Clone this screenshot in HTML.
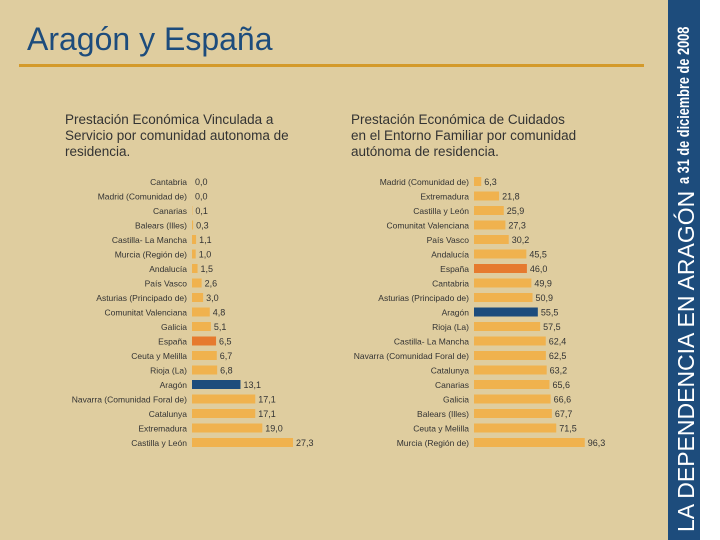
<!DOCTYPE html>
<html><head><meta charset="utf-8"><style>
body{margin:0;width:720px;height:540px;overflow:hidden;background:#fff;font-family:"Liberation Sans",sans-serif}
#bg{position:absolute;left:0;top:0;width:668px;height:540px;background:#dfcd9f}
#strip{position:absolute;left:668px;top:0;width:32px;height:540px;background:#1d4c7c}
.rot{position:absolute;color:#fff;white-space:nowrap;transform-origin:0 0;transform:rotate(-90deg)}
h1{position:absolute;left:27px;top:21px;margin:0;font-weight:normal;font-size:32px;color:#1d4c7c}
#rule{position:absolute;left:19px;top:64px;width:625px;height:3px;background:#d49a2a}
.ttl{position:absolute;font-size:13.5px;line-height:16px;color:#333}
svg{position:absolute;left:0;top:0}
</style></head><body>
<div id="bg"></div>
<div id="strip">
<div class="rot" style="left:5px;top:532px;font-size:23px">LA DEPENDENCIA EN ARAGÓN</div>
<div class="rot" style="left:6px;top:184px;font-size:17px;font-weight:bold;transform:rotate(-90deg) scaleX(0.75)">a 31 de diciembre de 2008</div>
</div>
<h1>Aragón y España</h1>
<div id="rule"></div>
<div class="ttl" style="left:65px;top:112px">Prestación Económica Vinculada a<br>Servicio por comunidad autonoma de<br>residencia.</div>
<div class="ttl" style="left:351px;top:112px">Prestación Económica de Cuidados<br>en el Entorno Familiar por comunidad<br>autónoma de residencia.</div>
<svg id="chart" width="720" height="540"></svg>
<script>
const leftCats=["Cantabria","Madrid (Comunidad de)","Canarias","Balears (Illes)","Castilla- La Mancha","Murcia (Región de)","Andalucía","País Vasco","Asturias (Principado de)","Comunitat Valenciana","Galicia","España","Ceuta y Melilla","Rioja (La)","Aragón","Navarra (Comunidad Foral de)","Catalunya","Extremadura","Castilla y León"];
const leftVals=[0.0,0.0,0.1,0.3,1.1,1.0,1.5,2.6,3.0,4.8,5.1,6.5,6.7,6.8,13.1,17.1,17.1,19.0,27.3];
const rightCats=["Madrid (Comunidad de)","Extremadura","Castilla y León","Comunitat Valenciana","País Vasco","Andalucía","España","Cantabria","Asturias (Principado de)","Aragón","Rioja (La)","Castilla- La Mancha","Navarra (Comunidad Foral de)","Catalunya","Canarias","Galicia","Balears (Illes)","Ceuta y Melilla","Murcia (Región de)"];
const rightVals=[6.3,21.8,25.9,27.3,30.2,45.5,46.0,49.9,50.9,55.5,57.5,62.4,62.5,63.2,65.6,66.6,67.7,71.5,96.3];
const svg=document.getElementById('chart');const NS="http://www.w3.org/2000/svg";
function draw(cats,vals,x0,scale,name){
  const y=i=>176+i*14.5;
  cats.forEach((c,i)=>{
    const col=c==="Aragón"?"#1d4c7c":c==="España"?"#e67a2e":"#f0b24e";
    const r=document.createElementNS(NS,'rect');
    r.setAttribute('x',x0);r.setAttribute('y',y(i)+1);r.setAttribute('width',Math.max(vals[i]*scale,0));r.setAttribute('height',9);r.setAttribute('fill',col);
    
    
    svg.appendChild(r);
    const t=document.createElementNS(NS,'text');
    t.setAttribute('x',x0-5);t.setAttribute('y',y(i)+9);t.setAttribute('text-anchor','end');t.setAttribute('font-size','8.5');t.setAttribute('fill','#333');t.textContent=c;
    
    
    svg.appendChild(t);
    const v=document.createElementNS(NS,'text');
    v.setAttribute('x',x0+vals[i]*scale+3);v.setAttribute('y',y(i)+9);v.setAttribute('font-size','9');v.setAttribute('fill','#333');v.textContent=vals[i].toFixed(1).replace('.',',');
    
    
    svg.appendChild(v);
  });
}
draw(leftCats,leftVals,192,3.7,'left');
draw(rightCats,rightVals,474,1.15,'right');
</script>
</body></html>
